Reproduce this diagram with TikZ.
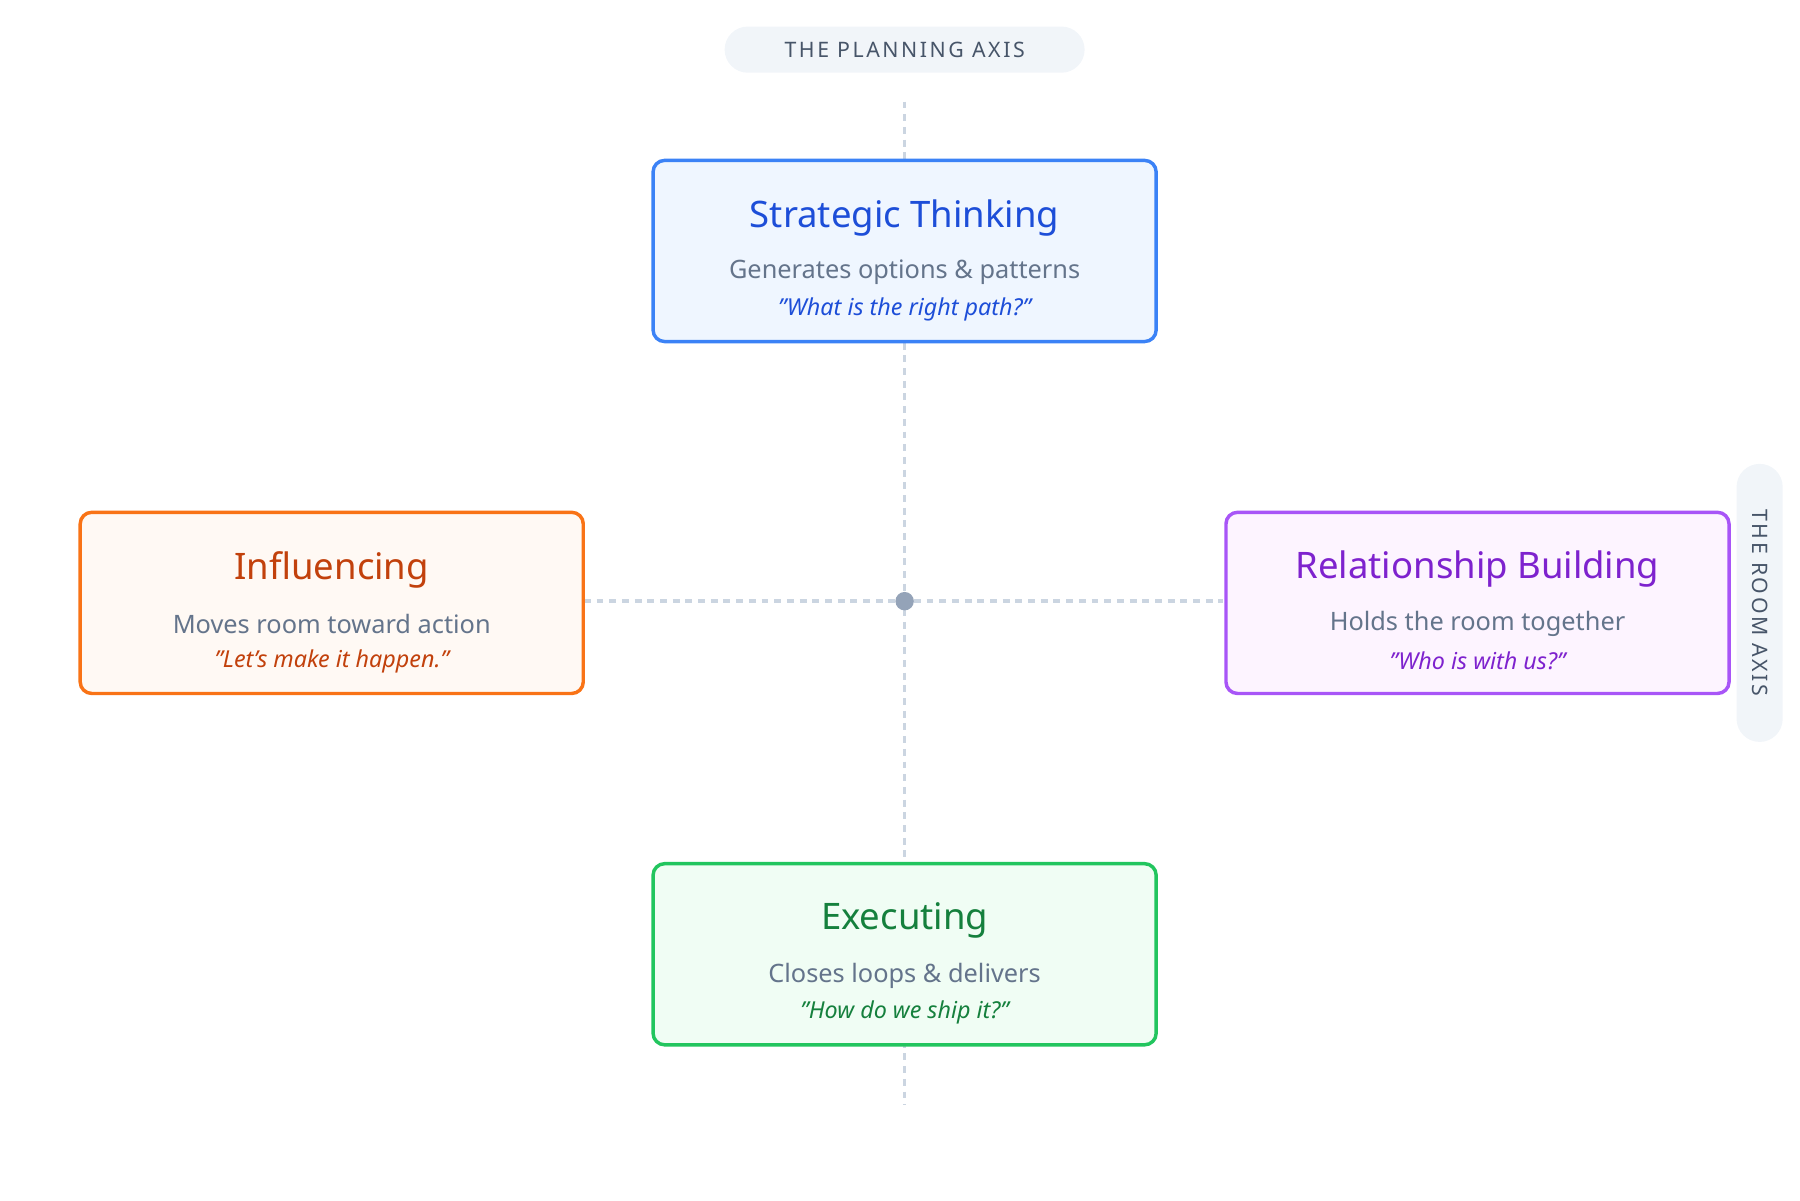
\documentclass[tikz,border=0pt]{standalone}
\usepackage{fontspec}
\setmainfont{Noto Sans}
\newfontfamily\axisfont[LetterSpace=12]{Noto Sans}
\usetikzlibrary{positioning}
\definecolor{slatebg}{HTML}{F1F5F9}
\definecolor{slatetx}{HTML}{475569}
\definecolor{subgray}{HTML}{64748B}
\definecolor{axisline}{HTML}{CBD5E1}
\definecolor{dotgray}{HTML}{94A3B8}
\definecolor{blueln}{HTML}{3B82F6}\definecolor{bluebg}{HTML}{EFF6FF}\definecolor{bluetx}{HTML}{1D4ED8}
\definecolor{orangeln}{HTML}{F97316}\definecolor{orangebg}{HTML}{FFF9F4}\definecolor{orangetx}{HTML}{C2410C}
\definecolor{purpleln}{HTML}{A855F7}\definecolor{purplebg}{HTML}{FDF4FF}\definecolor{purpletx}{HTML}{7E22CE}
\definecolor{greenln}{HTML}{22C55E}\definecolor{greenbg}{HTML}{F0FDF4}\definecolor{greentx}{HTML}{15803D}
\tikzset{
  quad box/.style={draw=#1ln, fill=#1bg, line width=1.7pt, rounded corners=0.2cm,
    minimum width=8.72cm, minimum height=3.14cm, inner sep=0pt},
  quad title/.style={text=#1tx, font=\fontsize{18}{20}\selectfont\bfseries},
  quad sub/.style={text=subgray, font=\fontsize{12.5}{14}\selectfont},
  quad quote/.style={text=#1tx, font=\fontsize{11.5}{13}\selectfont\itshape},
  axis pill/.style={fill=slatebg, rounded corners=0.4cm, text=slatetx,
    font=\fontsize{10.5}{12}\selectfont\bfseries\axisfont, inner sep=0pt},
  axis line/.style={draw=axisline, line width=1.7pt, dash pattern=on 0.12cm off 0.1cm}
}
\begin{document}
\begin{tikzpicture}
    \useasboundingbox (0,0) rectangle (31.2,-20.8);
    % axes behind the boxes
    \coordinate (top) at (15.68,-1.76);
    \coordinate (bottom) at (15.68,-19.16);
    \coordinate (left) at (10.12,-10.42);
    \coordinate (right) at (21.2,-10.42);
    \path[axis line] (top) -- (bottom);
    \path[axis line] (left) -- (right);
    \node[circle, fill=dotgray, minimum size=0.32cm, inner sep=0pt] (hub) at (15.68,-10.42) {};

    % axis labels
    \node[axis pill, minimum width=6.24cm, minimum height=0.8cm] (plan) at (15.68,-0.86) {THE PLANNING AXIS};
    \node[axis pill, minimum width=4.82cm, minimum height=0.8cm, rotate=-90] (room) at (30.5,-10.45) {THE ROOM AXIS};

    % quadrant boxes
    \node[quad box=blue] (S) at (15.68,-4.35) {};
    \node[quad box=orange] (I) at (5.75,-10.45) {};
    \node[quad box=purple] (R) at (25.61,-10.45) {};
    \node[quad box=green] (E) at (15.68,-16.54) {};

    \foreach \b/\c/\t/\s/\q in {
      S/blue/Strategic Thinking/Generates options \& patterns/"What is the right path?",
      I/orange/Influencing/Moves room toward action/"Let's make it happen.",
      R/purple/Relationship Building/Holds the room together/"Who is with us?",
      E/green/Executing/Closes loops \& delivers/"How do we ship it?"} {
      \node[quad title=\c] (\b-title) at ([yshift=0.58cm]\b.center) {\t};
      \node[quad sub] (\b-sub) at ([yshift=-0.37cm]\b.center) {\s};
      \node[quad quote=\c] (\b-quote) at ([yshift=-1.01cm]\b.center) {\q};
    }
\end{tikzpicture}
\end{document}
